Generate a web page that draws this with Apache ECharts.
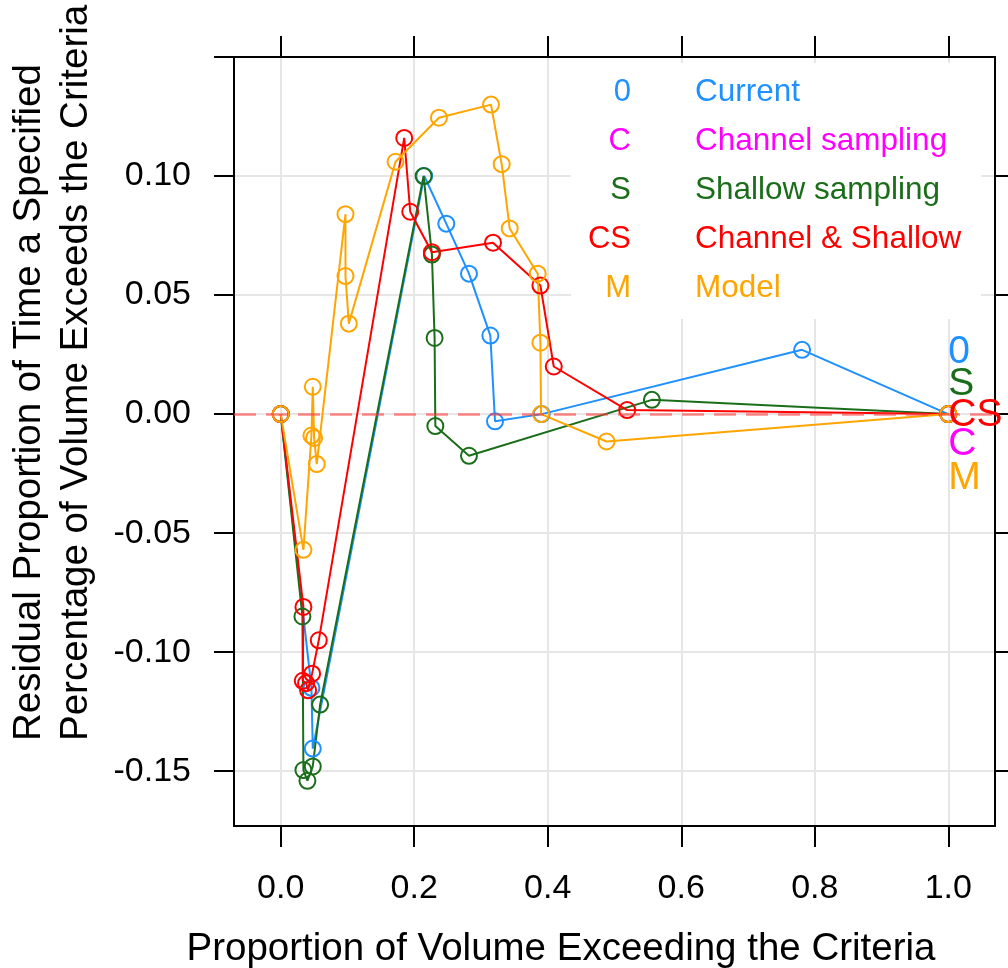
<!DOCTYPE html>
<html>
<head>
<meta charset="utf-8">
<script src="https://cdn.jsdelivr.net/npm/echarts@6/dist/echarts.min.js"></script>
<style>
  html, body { margin: 0; padding: 0; background: #ffffff; }
  #chart { width: 1008px; height: 968px; }
</style>
</head>
<body>
<div id="chart"></div>
<script>
// Axis ticks
const xTicks = [0, 0.2, 0.4, 0.6, 0.8, 1.0];
const yTicks = [-0.15, -0.10, -0.05, 0, 0.05, 0.10];
const yTickMarksLeft = [-0.15, -0.10, -0.05, 0, 0.05, 0.10, 0.15];

// Scenario names, short codes and colours
const scenarioNames = ['Current', 'Channel sampling', 'Shallow sampling', 'Channel & Shallow', 'Model'];
const scenarioCodes = ['0', 'C', 'S', 'CS', 'M'];
const scenarioColors = ['#1E90FF', '#FF00FF', '#1A6E1A', '#FF0000', '#FFA500'];

// Current
const currentX = [0, 0.046, 0.048, 0.215, 0.248, 0.282, 0.314, 0.321, 0.391, 0.781, 1.0];
const currentY = [0, -0.115, -0.1405, 0.100, 0.080, 0.059, 0.033, -0.003, 0.000, 0.027, 0];

// Shallow sampling
const shallowX = [0, 0.0325, 0.034, 0.040, 0.048, 0.059, 0.214, 0.2265, 0.2305, 0.2316, 0.282, 0.556, 1.0];
const shallowY = [0, -0.085, -0.1495, -0.154, -0.148, -0.122, 0.100, 0.067, 0.032, -0.005, -0.0175, 0.006, 0];

// Channel & Shallow
const chanShalX = [0, 0.034, 0.033, 0.038, 0.041, 0.047, 0.057, 0.185, 0.194, 0.2265, 0.318, 0.389, 0.409, 0.519, 1.0];
const chanShalY = [0, -0.081, -0.112, -0.113, -0.116, -0.109, -0.095, 0.116, 0.085, 0.068, 0.072, 0.054, 0.020, 0.0017, 0];

// Model
const modelX = [0, 0.034, 0.046, 0.048, 0.050, 0.054, 0.097, 0.097, 0.102, 0.172, 0.237, 0.315, 0.331, 0.343, 0.385, 0.389, 0.390, 0.488, 1.0];
const modelY = [0, -0.057, -0.009, 0.0115, -0.010, -0.021, 0.084, 0.058, 0.038, 0.106, 0.1245, 0.130, 0.105, 0.078, 0.059, 0.030, 0.000, -0.0115, 0];

const FONT = "'Liberation Sans', Arial, sans-serif";

function pairs(xs, ys) {
  return xs.map((x, i) => [x, ys[i]]);
}

function lineSeries(idx, xs, ys, extra) {
  const c = scenarioColors[idx];
  return Object.assign({
    type: 'line',
    name: scenarioNames[idx],
    data: pairs(xs, ys),
    symbol: 'circle',
    symbolSize: 16,
    showAllSymbol: true,
    clip: false,
    lineStyle: { color: c, width: 2 },
    itemStyle: { color: 'rgba(0,0,0,0)', borderColor: c, borderWidth: 2 },
    emphasis: { disabled: true },
    silent: true
  }, extra || {});
}

const chart = echarts.init(document.getElementById('chart'));

const axisLineStyle = { color: '#000', width: 2 };

const option = {
  animation: false,
  backgroundColor: '#ffffff',
  grid: { left: 234, top: 57, width: 761, height: 769, outerBoundsMode: 'none', containLabel: false },
  xAxis: [
    {
      type: 'value', min: -0.07, max: 1.07, position: 'bottom',
      axisLine: { show: true, onZero: false, lineStyle: axisLineStyle },
      axisTick: { show: true, inside: false, length: 21, customValues: xTicks, lineStyle: axisLineStyle },
      axisLabel: {
        customValues: xTicks, margin: 46, fontSize: 34, color: '#000', fontFamily: FONT,
        formatter: v => v.toFixed(1)
      },
      splitLine: { show: true, lineStyle: { color: '#e6e6e6', width: 2 } }
    },
    {
      type: 'value', min: -0.07, max: 1.07, position: 'top',
      axisLine: { show: true, onZero: false, lineStyle: axisLineStyle },
      axisTick: { show: true, inside: false, length: 21, customValues: xTicks, lineStyle: axisLineStyle },
      axisLabel: { show: false },
      splitLine: { show: false }
    }
  ],
  yAxis: [
    {
      type: 'value', min: -0.173, max: 0.15, position: 'left',
      axisLine: { show: true, onZero: false, lineStyle: axisLineStyle },
      axisTick: { show: true, inside: false, length: 20, customValues: yTickMarksLeft, lineStyle: axisLineStyle },
      axisLabel: {
        customValues: yTicks, margin: 43, fontSize: 34, color: '#000', fontFamily: FONT,
        padding: [10, 0, 0, 0],
        formatter: v => v.toFixed(2)
      },
      splitLine: { show: true, lineStyle: { color: '#e6e6e6', width: 2 } }
    },
    {
      type: 'value', min: -0.173, max: 0.15, position: 'right',
      axisLine: { show: true, onZero: false, lineStyle: axisLineStyle },
      axisTick: { show: true, inside: false, length: 20, customValues: yTicks, lineStyle: axisLineStyle },
      axisLabel: { show: false },
      splitLine: { show: false }
    }
  ],
  series: [
    lineSeries(0, currentX, currentY, {
      markLine: {
        silent: true,
        symbol: 'none',
        label: { show: false },
        lineStyle: { color: 'rgba(255,60,60,0.6)', type: [22, 10], width: 2.5 },
        data: [{ yAxis: 0 }]
      }
    }),
    lineSeries(2, shallowX, shallowY),
    lineSeries(3, chanShalX, chanShalY),
    lineSeries(4, modelX, modelY)
  ]
};

chart.setOption(option);

// Key in the upper right, end-of-line codes and axis titles
const graphics = [];
graphics.push({
  type: 'rect', z: 1, silent: true,
  shape: { x: 571, y: 63, width: 410, height: 256 },
  style: { fill: '#ffffff' }
});
const keyTop = 92, keyStep = 49.2;
scenarioNames.forEach((name, i) => {
  const y = keyTop + i * keyStep;
  graphics.push({
    type: 'text', z: 5, silent: true, x: 631, y: y,
    style: { text: scenarioCodes[i], fill: scenarioColors[i], font: '31px ' + FONT, textAlign: 'right', textVerticalAlign: 'middle' }
  });
  graphics.push({
    type: 'text', z: 5, silent: true, x: 695, y: y,
    style: { text: name, fill: scenarioColors[i], font: '31.5px ' + FONT, textAlign: 'left', textVerticalAlign: 'middle' }
  });
});

const endPt = chart.convertToPixel({ xAxisIndex: 0, yAxisIndex: 0 }, [1.0, 0]);
const endOffsets = [-62, 30, -30, 1, 64];   // order follows scenarioCodes
scenarioCodes.forEach((code, i) => {
  graphics.push({
    type: 'text', z: 6, silent: true, x: endPt[0], y: endPt[1] + endOffsets[i],
    style: { text: code, fill: scenarioColors[i], font: '39px ' + FONT, textAlign: 'left', textVerticalAlign: 'middle' }
  });
});

graphics.push({
  type: 'text', silent: true, x: 561, y: 949,
  style: { text: 'Proportion of Volume Exceeding the Criteria', fill: '#000', font: '38.5px ' + FONT, textAlign: 'center', textVerticalAlign: 'middle' }
});
graphics.push({
  type: 'text', silent: true, x: 29, y: 741, rotation: Math.PI / 2,
  style: { text: 'Residual Proportion of Time a Specified', fill: '#000', font: '38.5px ' + FONT, textAlign: 'left', textVerticalAlign: 'middle' }
});
graphics.push({
  type: 'text', silent: true, x: 76, y: 741, rotation: Math.PI / 2,
  style: { text: 'Percentage of Volume Exceeds the Criteria', fill: '#000', font: '38.5px ' + FONT, textAlign: 'left', textVerticalAlign: 'middle' }
});

chart.setOption({ graphic: { elements: graphics } });
</script>
</body>
</html>
